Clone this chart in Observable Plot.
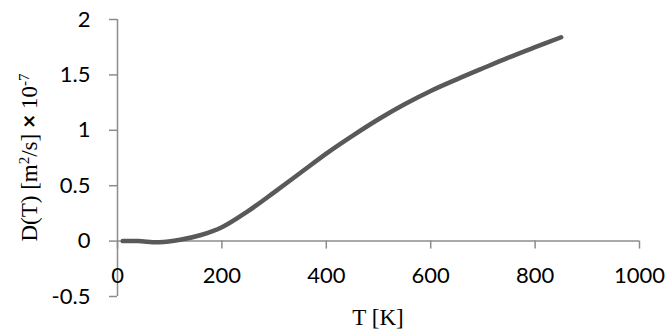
<!DOCTYPE html>
<html>
<head>
<meta charset="utf-8">
<script src="https://cdn.jsdelivr.net/npm/d3@7"></script>
<script src="https://cdn.jsdelivr.net/npm/@observablehq/plot@0.6"></script>
<style>
  html, body { margin: 0; padding: 0; background: #fff; }
  #chart svg { display: block; }
</style>
</head>
<body>
<div id="chart"></div>
<script>
// Diffusion coefficient D(T), in units of 1e-7 m²/s, versus temperature T [K]
const temperature = [10, 40, 80, 120, 160, 200, 250, 300, 350, 400, 450, 500, 550, 600, 650, 700, 750, 800, 850];
const diffusion   = [0, 0, -0.01, 0.012, 0.055, 0.125, 0.27, 0.44, 0.615, 0.79, 0.95, 1.10, 1.235, 1.355, 1.46, 1.56, 1.658, 1.75, 1.84];

const xTicks = [0, 200, 400, 600, 800, 1000];
const yTicks = [-0.5, 0, 0.5, 1, 1.5, 2];

const xTitle = "T [K]";

const rows = temperature.map((t, i) => ({T: t, D: diffusion[i]}));

const axisColor = "#8c8c8c";

const chart = Plot.plot({
  width: 667,
  height: 332,
  marginLeft: 117,
  marginRight: 28,
  marginTop: 19,
  marginBottom: 36,
  x: {domain: [0, 1000], axis: null},
  y: {domain: [-0.5, 2], axis: null},
  style: {fontFamily: "Lato, 'Open Sans', sans-serif", fontSize: "22px", background: "#fff", color: "#000"},
  marks: [
    // axis lines: vertical at T = 0, horizontal at D = 0
    Plot.ruleX([0], {stroke: axisColor, strokeWidth: 1.5}),
    Plot.ruleY([0], {stroke: axisColor, strokeWidth: 1.5}),
    // tick marks
    Plot.ruleY(yTicks, {x1: 0, x2: 0, insetLeft: -8, stroke: axisColor, strokeWidth: 1.5}),
    Plot.ruleX(xTicks, {y1: 0, y2: 0, insetBottom: -8, stroke: axisColor, strokeWidth: 1.5}),
    // tick labels
    Plot.text(yTicks, {x: 0, y: d => d, text: d => String(d), textAnchor: "end", dx: -27, fill: "#000"}),
    Plot.text(xTicks, {x: d => d, y: 0, text: d => String(d), dy: 35, fill: "#000"}),
    // the curve
    Plot.line(rows, {x: "T", y: "D", stroke: "#595959", strokeWidth: 4.5, curve: "catmull-rom", strokeLinecap: "round", strokeLinejoin: "round"})
  ]
});

document.getElementById("chart").appendChild(chart);

// axis titles in a serif face, with superscripts for the units
const svg = d3.select(chart);
const serif = "'Liberation Serif', 'DejaVu Serif', serif";

svg.append("text")
  .attr("x", 378)
  .attr("y", 325)
  .attr("text-anchor", "middle")
  .attr("font-family", serif)
  .attr("font-size", 23)
  .attr("fill", "#000")
  .text(xTitle);

const yt = svg.append("text")
  .attr("transform", "translate(37,157.5) rotate(-90)")
  .attr("text-anchor", "middle")
  .attr("font-family", serif)
  .attr("font-size", 23)
  .attr("fill", "#000");
yt.append("tspan").text("D(T) [m");
yt.append("tspan").attr("font-size", 15).attr("dy", -8).text("2");
yt.append("tspan").attr("dy", 8).text("/s] ");
yt.append("tspan").attr("font-family", "Lato, sans-serif").attr("font-weight", "bold").text("×");
yt.append("tspan").text(" 10");
yt.append("tspan").attr("font-size", 15).attr("dy", -8).text("-7");
</script>
</body>
</html>
